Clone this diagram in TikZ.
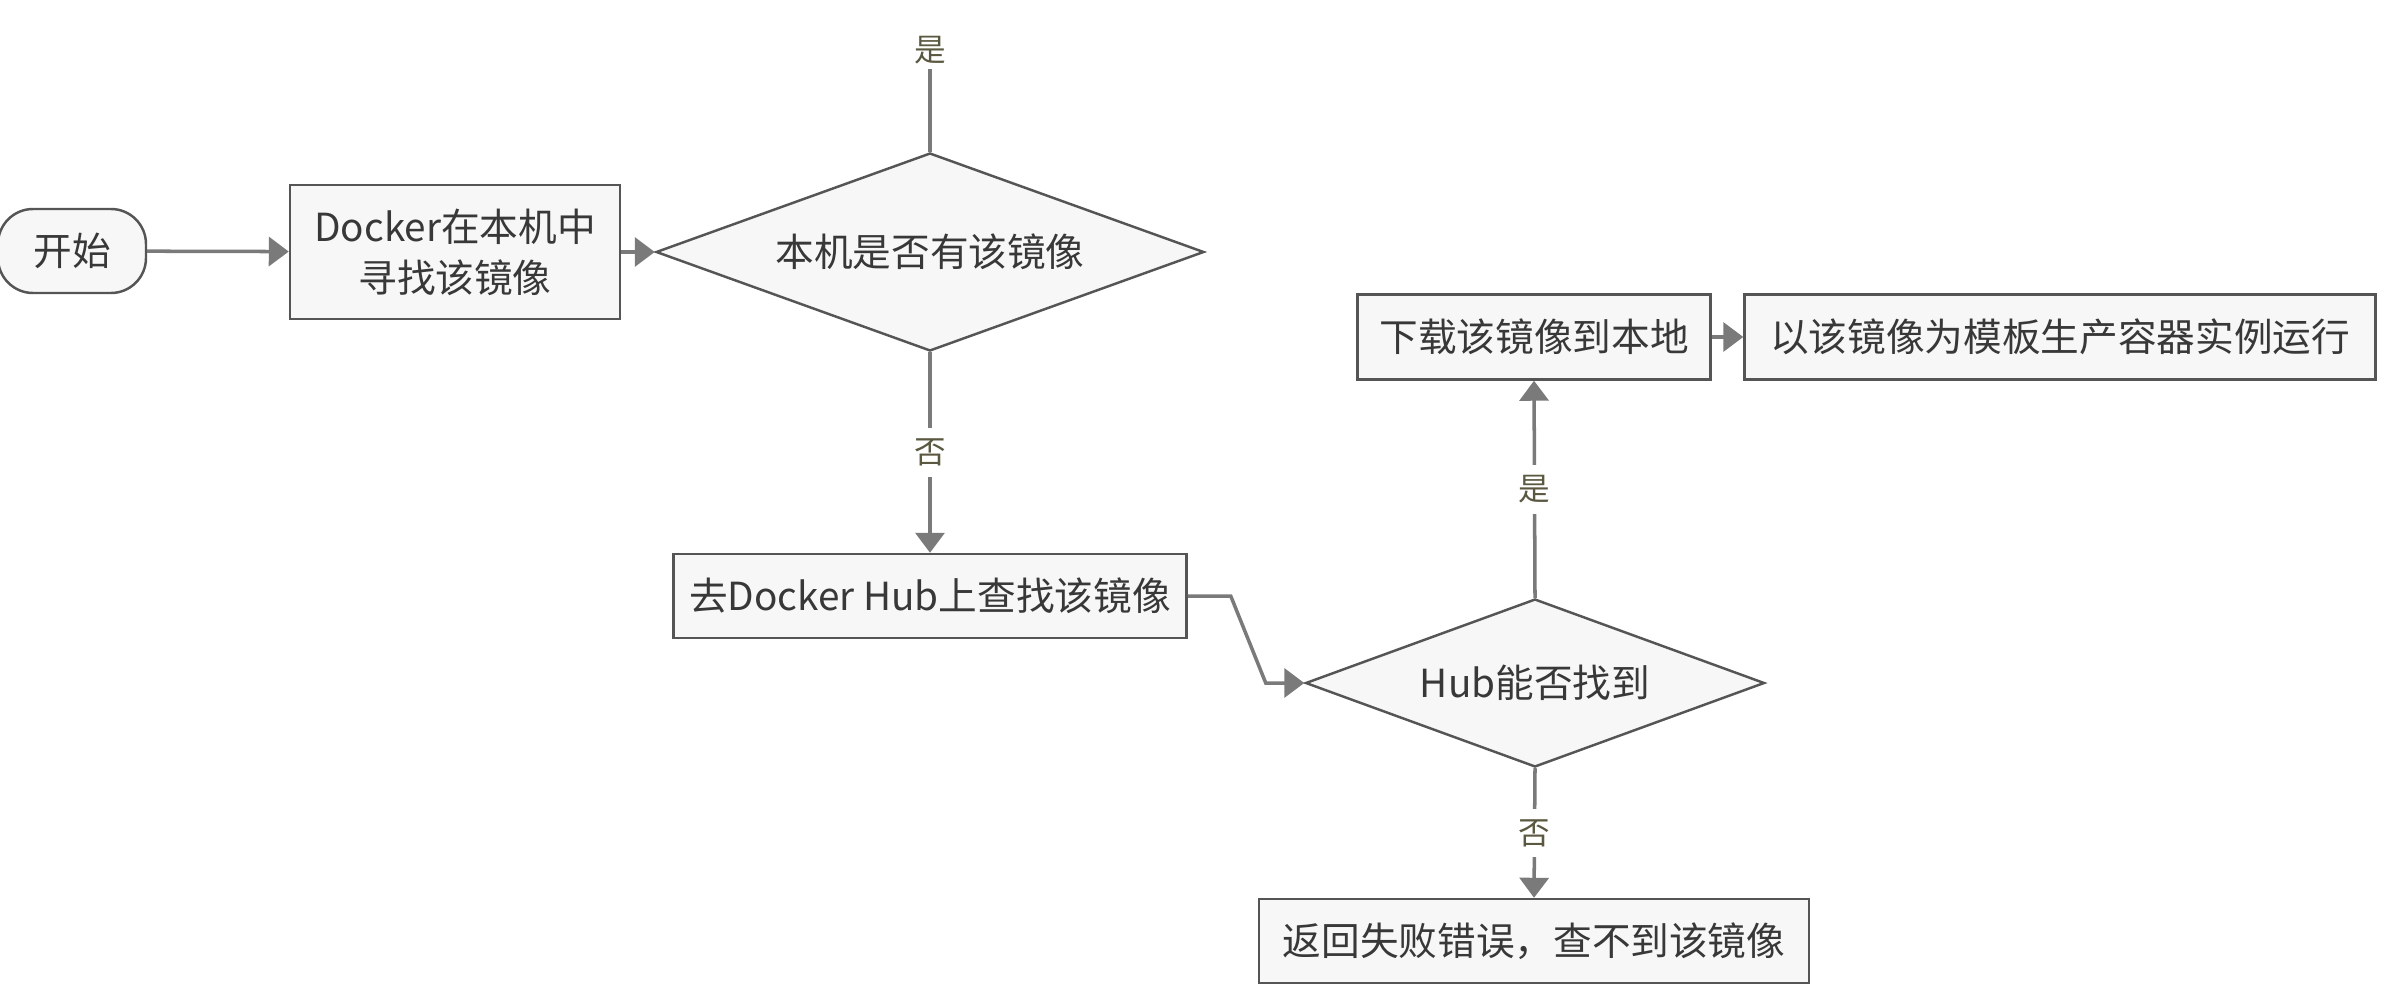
\documentclass[tikz,border=0pt]{standalone}
\usepackage{fontspec}
\newfontfamily\cjk{Noto Sans CJK SC}
\usetikzlibrary{shapes.geometric,arrows.meta}

\definecolor{boxfill}{HTML}{F7F7F7}
\definecolor{boxline}{HTML}{555555}
\definecolor{flowgray}{HTML}{7A7A7A}
\definecolor{answerolive}{HTML}{5A5840}
\definecolor{textgray}{HTML}{383838}

\begin{document}
\begin{tikzpicture}[
  every node/.style={font={\cjk\fontsize{11pt}{14.5pt}\selectfont}, text=textgray},
  box/.style={draw=boxline, fill=boxfill, line width=0.7pt, inner sep=0pt, align=center},
  startbox/.style={box, rounded corners=3.5mm},
  decision/.style={diamond, draw=boxline, fill=boxfill, line width=0.7pt, inner sep=0pt, aspect=2.75},
  flow/.style={draw=flowgray, line width=1pt, -{Triangle[length=2mm,width=2.9mm]}},
  answer/.style={font={\cjk\fontsize{9pt}{10pt}\selectfont}, text=answerolive, fill=white, inner sep=3pt}
]
\useasboundingbox (0,0) rectangle (23.94,-10.02);

% Steps
\node[startbox, minimum width=1.48cm, minimum height=0.84cm] (start) at (0.72,-2.51) {开始};
\node[box, minimum width=3.30cm, minimum height=1.34cm] (local) at (4.55,-2.52) {Docker在本机中\\寻找该镜像};
\node[decision, minimum width=5.48cm, minimum height=1.98cm] (haslocal) at (9.30,-2.52) {本机是否有该镜像};
\node[box, minimum width=5.13cm, minimum height=0.84cm] (hubsearch) at (9.30,-5.96) {去Docker Hub上查找该镜像};
\node[decision, minimum width=4.59cm, minimum height=1.68cm] (hubfound) at (15.35,-6.83) {Hub能否找到};
\node[box, minimum width=3.53cm, minimum height=0.85cm] (pull) at (15.34,-3.37) {下载该镜像到本地};
\node[box, minimum width=6.31cm, minimum height=0.85cm] (run) at (20.60,-3.37) {以该镜像为模板生产容器实例运行};
\node[box, minimum width=5.50cm, minimum height=0.84cm] (fail) at (15.34,-9.41) {返回失败错误，查不到该镜像};
\coordinate (yesend) at (9.30,-0.69);

% Connectors
\draw[flow] (start) -- (local);
\draw[flow] (local) -- (haslocal);
\draw[draw=flowgray, line width=1pt] (haslocal.north) -- (yesend)
  node[answer, above, fill=none, inner sep=1pt] {是};
\draw[flow] (haslocal.south) -- node[answer] {否} (hubsearch.north);
\draw[flow] (hubsearch.east) -- ++(0.43,0) -- ++(0.35,-0.87) -- (hubfound.west);
\draw[flow] (hubfound.north) -- node[answer] {是} (pull.south);
\draw[flow] (pull) -- (run);
\draw[flow] (hubfound.south) -- node[answer] {否} (fail.north);

\end{tikzpicture}
\end{document}
